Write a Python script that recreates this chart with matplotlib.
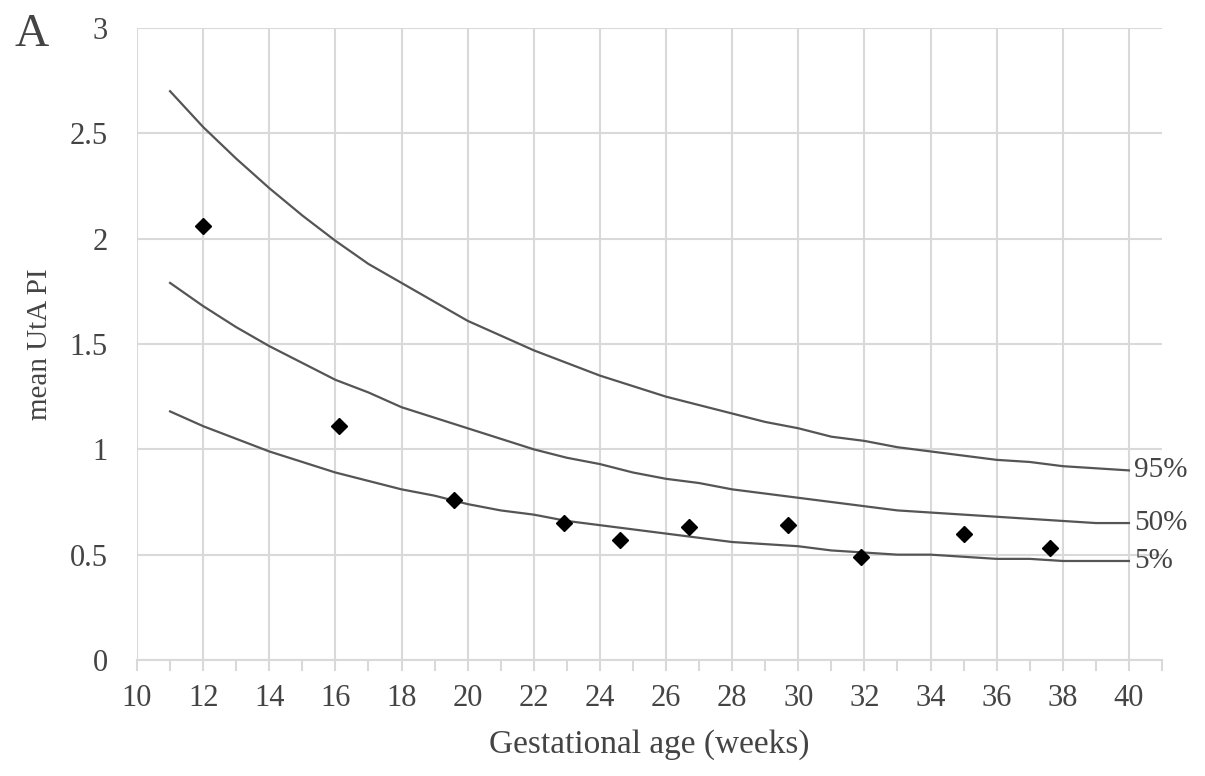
import matplotlib
matplotlib.use("Agg")
import matplotlib.pyplot as plt
from matplotlib.ticker import MultipleLocator

plt.rcParams['font.family'] = ['Liberation Serif', 'DejaVu Serif']

# percentile curves (gestational week -> mean UtA PI)
weeks = [11, 12, 13, 14, 15, 16, 17, 18, 19, 20, 21, 22, 23, 24, 25, 26, 27, 28,
         29, 30, 31, 32, 33, 34, 35, 36, 37, 38, 39, 40]
p95 = [2.70, 2.53, 2.38, 2.24, 2.11, 1.99, 1.88, 1.79, 1.70, 1.61, 1.54, 1.47, 1.41,
       1.35, 1.30, 1.25, 1.21, 1.17, 1.13, 1.10, 1.06, 1.04, 1.01, 0.99, 0.97, 0.95,
       0.94, 0.92, 0.91, 0.90]
p50 = [1.79, 1.68, 1.58, 1.49, 1.41, 1.33, 1.27, 1.20, 1.15, 1.10, 1.05, 1.00, 0.96,
       0.93, 0.89, 0.86, 0.84, 0.81, 0.79, 0.77, 0.75, 0.73, 0.71, 0.70, 0.69, 0.68,
       0.67, 0.66, 0.65, 0.65]
p5 = [1.18, 1.11, 1.05, 0.99, 0.94, 0.89, 0.85, 0.81, 0.78, 0.74, 0.71, 0.69, 0.66,
      0.64, 0.62, 0.60, 0.58, 0.56, 0.55, 0.54, 0.52, 0.51, 0.50, 0.50, 0.49, 0.48,
      0.48, 0.47, 0.47, 0.47]
labels = ['95%', '50%', '5%']

# measured points
pt_x = [12.0, 16.1, 19.6, 22.9, 24.6, 26.7, 29.7, 31.9, 35.0, 37.6]
pt_y = [2.06, 1.11, 0.76, 0.65, 0.57, 0.63, 0.64, 0.49, 0.60, 0.53]

xticks = [10, 12, 14, 16, 18, 20, 22, 24, 26, 28, 30, 32, 34, 36, 38, 40]
yticks = [0, 0.5, 1, 1.5, 2, 2.5, 3]
ytick_labels = ['0', '0.5', '1', '1.5', '2', '2.5', '3']

fig = plt.figure(figsize=(12.05, 7.76), dpi=100)
ax = fig.add_axes([0.1137, 0.1495, 0.8506, 0.8144])

line_col = '#555555'
grid_col = '#d9d9d9'
text_col = '#444444'
for curve, lab in zip([p95, p50, p5], labels):
    ax.plot(weeks, curve, color=line_col, lw=1.6, zorder=3)
    ax.text(40.15, curve[-1], lab, fontsize=21, color=text_col, va='center', ha='left')

ax.plot(pt_x, pt_y, 'D', color='black', ms=8, zorder=4)

ax.set_xlim(10, 41)
ax.set_ylim(0, 3)
ax.set_xticks(xticks)
ax.xaxis.set_minor_locator(MultipleLocator(1))
ax.set_yticks(yticks)
ax.set_yticklabels(ytick_labels)

ax.grid(True, which='major', color=grid_col, lw=1.5, zorder=0)
ax.set_axisbelow(True)
for s in ['top', 'right', 'left']:
    ax.spines[s].set_visible(False)
ax.spines['bottom'].set_color(grid_col)
ax.spines['bottom'].set_linewidth(1.5)

ax.tick_params(axis='x', which='both', direction='out', length=8, width=1.5,
               color=grid_col, labelsize=22, labelcolor=text_col, pad=9)
ax.tick_params(axis='y', which='both', length=0, labelsize=22, labelcolor=text_col, pad=21)

ax.set_xlabel('Gestational age (weeks)', fontsize=24, color=text_col, labelpad=12)
ax.set_ylabel('mean UtA PI', fontsize=21, color=text_col, labelpad=12)

fig.text(0.012, 0.982, 'A', fontsize=34, color=text_col, va='top', ha='left')

fig.savefig('out.png', dpi=100)
